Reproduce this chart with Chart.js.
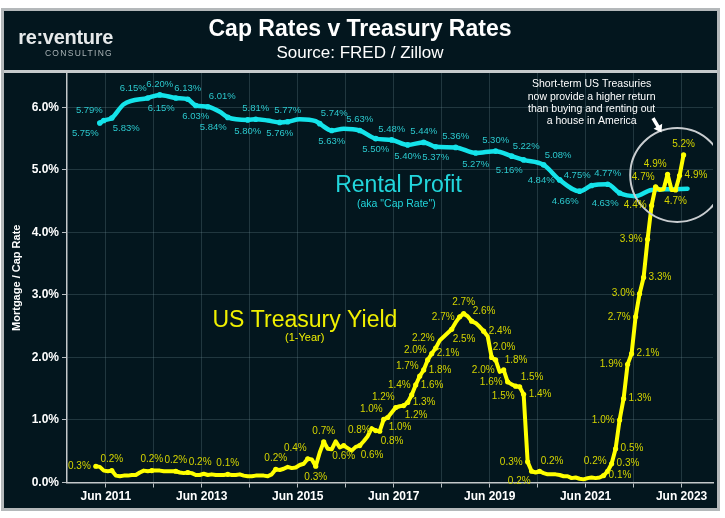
<!DOCTYPE html>
<html><head><meta charset="utf-8">
<script src="https://cdn.jsdelivr.net/npm/chart.js@4.4.1/dist/chart.umd.min.js"></script>
<style>
html,body{margin:0;padding:0;background:#fff;}
#panel{position:absolute;left:1px;top:8px;width:713px;height:497px;border:3px solid #b4b8ba;background:#03161e;}
#panel canvas{position:absolute;left:0;top:0;}
#logo{position:absolute;left:9px;top:15px;width:100px;text-align:right;font-family:"Liberation Sans",Arial,sans-serif;color:#e6e9ea;}
#logo .a{font-size:20px;font-weight:bold;line-height:22px;letter-spacing:-0.3px;}
#logo .b{font-size:8.5px;letter-spacing:1.3px;color:#a9b3b6;line-height:10px;}
</style></head>
<body>
<div id="panel"><canvas id="c" width="713" height="497"></canvas>
<div id="logo"><div class="a">re:venture</div><div class="b">CONSULTING</div></div></div>
<script>
// ---- Data ----
const capMonths = ['2011-04','2011-05','2011-07','2011-10','2012-04','2012-07','2012-11','2013-02','2013-04','2013-07','2013-10','2013-12','2014-05','2014-07','2014-10','2015-01','2015-03','2015-06','2015-10','2015-11','2016-02','2016-05','2016-09','2017-01','2017-05','2017-09','2018-01','2018-04','2018-09','2019-02','2019-07','2019-11','2020-02','2020-07','2020-11','2021-04','2021-07','2021-11','2022-02','2022-06','2022-10','2023-02','2023-07'];
const capValues = [5.75,5.79,5.83,6.05,6.15,6.20,6.15,6.13,6.03,6.01,5.93,5.84,5.80,5.81,5.79,5.76,5.77,5.81,5.78,5.74,5.63,5.66,5.63,5.50,5.48,5.40,5.44,5.37,5.36,5.27,5.30,5.22,5.16,5.08,4.84,4.66,4.75,4.77,4.63,4.58,4.68,4.69,4.70];
const capLabelPos = ['bl','al','br','','al','a','bl','a','b','ar','','bl','b','a','','b','a','','','ar','b','','a','b','a','b','a','b','a','b','a','ar','bl','ar','l','bl','al','a','bl','','','',''];

const treasuryStart = '2011-03';
const treasuryValues = [
 0.26,0.25,0.19,0.18,0.19,0.11,0.10,0.11,0.11,0.12,
 0.12,0.16,0.19,0.18,0.19,0.19,0.19,0.18,0.18,0.18,0.18,0.16,
 0.15,0.16,0.15,0.12,0.12,0.14,0.12,0.13,0.12,0.12,0.12,0.13,
 0.12,0.12,0.13,0.11,0.10,0.10,0.11,0.11,0.11,0.10,0.13,0.21,
 0.20,0.22,0.25,0.23,0.24,0.28,0.30,0.38,0.37,0.26,0.48,0.65,
 0.54,0.53,0.66,0.56,0.59,0.55,0.51,0.57,0.59,0.66,0.74,0.87,
 0.83,0.82,1.01,1.04,1.12,1.20,1.22,1.23,1.28,1.40,1.56,1.70,
 1.80,1.96,2.06,2.15,2.27,2.33,2.39,2.45,2.56,2.65,2.70,2.66,
 2.58,2.55,2.49,2.42,2.34,2.00,1.96,1.77,1.80,1.61,1.57,1.54,
 1.53,1.41,0.33,0.18,0.16,0.18,0.15,0.13,0.13,0.13,0.12,0.10,
 0.10,0.07,0.08,0.06,0.05,0.07,0.08,0.07,0.08,0.11,0.18,0.30,
 0.54,1.00,1.34,1.89,2.06,2.65,3.02,3.28,3.89,4.43,4.73,4.68,
 4.69,4.93,4.68,4.68,4.91,5.24];
const treasuryLabelPos = {
 '2011-03':'l','2011-07':'a','2012-05':'a','2012-11':'a','2013-02':'ar','2013-12':'a','2014-12':'a',
 '2015-08':'al','2015-10':'b','2015-12':'a','2016-05':'b','2016-09':'br',
 '2017-01':'l','2017-02':'br','2017-03':'al','2017-04':'br','2017-06':'al','2017-08':'br','2017-09':'r',
 '2017-10':'al','2017-11':'r','2017-12':'al','2018-01':'r','2018-02':'al','2018-03':'r','2018-04':'al',
 '2018-08':'br','2018-10':'l','2018-11':'a','2019-01':'ar','2019-04':'r','2019-06':'ar','2019-07':'bl',
 '2019-09':'ar','2019-10':'l','2019-12':'bl','2020-01':'ar','2020-02':'r','2020-03':'l','2020-04':'bl',
 '2020-06':'ar','2021-10':'r','2021-11':'al','2021-12':'r','2022-01':'r','2022-02':'l','2022-03':'r',
 '2022-04':'l','2022-05':'r','2022-06':'l','2022-07':'l','2022-08':'r','2022-09':'l','2022-10':'l',
 '2022-11':'al','2023-02':'al','2023-04':'b','2023-05':'r','2023-06':'a'};

const tickYears = [2011,2012,2013,2014,2015,2016,2017,2018,2019,2020,2021,2022,2023];
const xTickLabels = ['Jun 2011','','Jun 2013','','Jun 2015','','Jun 2017','','Jun 2019','','Jun 2021','','Jun 2023'];
const yTickValues = [0,1,2,3,4,5,6];

// ---- helpers ----
const FONT = '"Liberation Sans", Arial, sans-serif';
const toYear = s => +s.slice(0,4) + (+s.slice(5,7) - 1) / 12;
const monthKey = (start, i) => { const y = +start.slice(0,4), m = +start.slice(5,7) - 1 + i; return (y + Math.floor(m/12)) + '-' + String(m%12 + 1).padStart(2,'0'); };
const treasuryMonths = treasuryValues.map((_, i) => monthKey(treasuryStart, i));
const treasuryLabels = treasuryMonths.map(m => treasuryLabelPos[m] || '');

const CYAN = '#14e3ea', CYAN_TXT = '#2cc9ce', YEL = '#ffff00', YEL_TXT = '#d4d400';

function place(code, x, y) {
  switch (code) {
    case 'a': return [x, y - 11, 'center'];
    case 'b': return [x, y + 11, 'center'];
    case 'l': return [x - 5, y, 'right'];
    case 'r': return [x + 5, y, 'left'];
    case 'al': return [x - 1, y - 10, 'right'];
    case 'ar': return [x + 1, y - 10, 'left'];
    case 'bl': return [x - 1, y + 10, 'right'];
    case 'br': return [x + 1, y + 10, 'left'];
  }
  return [x, y, 'center'];
}

const pointLabels = {
  id: 'pointLabels',
  afterDatasetsDraw(chart) {
    const ctx = chart.ctx;
    chart.data.datasets.forEach((ds, di) => {
      const meta = chart.getDatasetMeta(di);
      ctx.save();
      ctx.font = ds.labelSize + 'px ' + FONT;
      ctx.fillStyle = ds.labelColor;
      ctx.textBaseline = 'middle';
      ds.labelPos.forEach((code, i) => {
        if (!code) return;
        const el = meta.data[i];
        const [tx, ty, al] = place(code, el.x, el.y);
        ctx.textAlign = al;
        ctx.fillText(ds.fmt(ds.data[i].y), tx, ty);
      });
      ctx.restore();
    });
  }
};

const notes = [
  {text: 'Rental Profit', x: 2017.475, y: 4.648, color: '#22d6dc', size: 23},
  {text: '(aka "Cap Rate")', x: 2017.43, y: 4.41, color: '#22d6dc', size: 10.5},
  {text: 'US Treasury Yield', x: 2015.525, y: 2.488, color: '#f0f000', size: 23},
  {text: '(1-Year)', x: 2015.52, y: 2.264, color: '#f0f000', size: 11},
  {text: 'Short-term US Treasuries', x: 2021.5, y: 6.32, color: '#ffffff', size: 10.5},
  {text: 'now provide a higher return', x: 2021.5, y: 6.125, color: '#ffffff', size: 10.5},
  {text: 'than buying and renting out', x: 2021.5, y: 5.93, color: '#ffffff', size: 10.5},
  {text: 'a house in America', x: 2021.5, y: 5.735, color: '#ffffff', size: 10.5}
];
const callout = {cx: 2023.284, cy: 4.92, r: 47, ax1: 2022.78, ay1: 5.83, ax2: 2022.955, ay2: 5.60};

const annotations = {
  id: 'annotations',
  beforeDatasetsDraw(chart) {
    const {ctx, scales: {x, y}} = chart;
    ctx.save();
    notes.forEach(n => {
      ctx.font = n.size + 'px ' + FONT;
      ctx.fillStyle = n.color;
      ctx.textAlign = 'center';
      ctx.textBaseline = 'alphabetic';
      ctx.fillText(n.text, x.getPixelForValue(n.x), y.getPixelForValue(n.y));
    });
    ctx.restore();
  },
  afterDatasetsDraw(chart) {
    const {ctx, chartArea: a, scales: {x, y}} = chart;
    ctx.save();
    ctx.beginPath();
    ctx.rect(a.left, a.top, a.right - a.left, a.bottom - a.top);
    ctx.clip();
    ctx.beginPath();
    ctx.arc(x.getPixelForValue(callout.cx), y.getPixelForValue(callout.cy), callout.r, 0, Math.PI * 2);
    ctx.strokeStyle = '#c9cdd0';
    ctx.lineWidth = 2;
    ctx.stroke();
    // arrow
    const x1 = x.getPixelForValue(callout.ax1), y1 = y.getPixelForValue(callout.ay1);
    const x2 = x.getPixelForValue(callout.ax2), y2 = y.getPixelForValue(callout.ay2);
    const ang = Math.atan2(y2 - y1, x2 - x1);
    ctx.strokeStyle = '#ffffff'; ctx.fillStyle = '#ffffff';
    ctx.lineWidth = 3.5;
    ctx.beginPath();
    ctx.moveTo(x1, y1);
    ctx.lineTo(x2 - 5 * Math.cos(ang), y2 - 5 * Math.sin(ang));
    ctx.stroke();
    ctx.beginPath();
    ctx.moveTo(x2, y2);
    ctx.lineTo(x2 - 7 * Math.cos(ang) + 5 * Math.sin(ang), y2 - 7 * Math.sin(ang) - 5 * Math.cos(ang));
    ctx.lineTo(x2 - 7 * Math.cos(ang) - 5 * Math.sin(ang), y2 - 7 * Math.sin(ang) + 5 * Math.cos(ang));
    ctx.closePath();
    ctx.fill();
    ctx.restore();
  },
  afterDraw(chart) {
    const {ctx, chartArea: a} = chart;
    ctx.save();
    ctx.fillStyle = '#c6cacc';
    ctx.fillRect(0, a.top - 3, chart.width, 3);
    ctx.restore();
  }
};

const fmt1 = v => (Math.round(v * 10 + 1e-9) / 10).toFixed(1) + '%';
const fmt2 = v => v.toFixed(2) + '%';

const GRID = 'rgba(120,150,160,0.26)';

new Chart(document.getElementById('c'), {
  type: 'line',
  data: {
    datasets: [
      {
        label: 'US Treasury Yield (1-Year)',
        data: treasuryMonths.map((m, i) => ({x: toYear(m), y: treasuryValues[i]})),
        borderColor: YEL, backgroundColor: YEL,
        borderWidth: 4, tension: 0, borderJoinStyle: 'round', borderCapStyle: 'round',
        pointRadius: treasuryLabels.map(p => p ? 2.6 : 0), pointBorderWidth: 0,
        labelPos: treasuryLabels, fmt: fmt1, labelColor: YEL_TXT, labelSize: 10
      },
      {
        label: 'Rental Profit (Cap Rate)',
        data: capMonths.map((m, i) => ({x: toYear(m), y: capValues[i]})),
        borderColor: CYAN, backgroundColor: CYAN,
        borderWidth: 4.5, cubicInterpolationMode: 'monotone', borderCapStyle: 'round',
        pointRadius: capLabelPos.map(p => p ? 2.8 : 0), pointBorderWidth: 0,
        labelPos: capLabelPos, fmt: fmt2, labelColor: CYAN_TXT, labelSize: 9.5
      }
    ]
  },
  options: {
    responsive: false,
    animation: false,
    events: [],
    layout: {padding: {left: 0, right: 1, top: 0, bottom: 0}},
    plugins: {
      legend: {display: false},
      tooltip: {enabled: false},
      title: {display: true, text: 'Cap Rates v Treasury Rates', color: '#ffffff',
        font: {family: FONT, size: 23, weight: 'bold', lineHeight: 1.2}, padding: {top: 5, bottom: 0}},
      subtitle: {display: true, text: 'Source: FRED / Zillow', color: '#ffffff',
        font: {family: FONT, size: 17, lineHeight: 1.2}, padding: {top: 0, bottom: 9}}
    },
    scales: {
      x: {
        type: 'linear', min: 2010.566, max: 2024.03,
        afterBuildTicks: s => { s.ticks = tickYears.map(yr => ({value: yr + 4.5 / 12})); },
        afterFit: s => { s.height = 25.5; },
        ticks: {autoSkip: false, maxRotation: 0, color: '#ffffff', padding: 2,
          font: {family: FONT, size: 12, weight: 'bold'},
          callback: (v, i) => xTickLabels[i]},
        grid: {color: GRID, tickColor: '#b9bfc2', tickLength: 5},
        border: {color: '#c4c8ca', width: 1.5}
      },
      y: {
        min: 0, max: 6.55,
        afterBuildTicks: s => { s.ticks = yTickValues.map(v => ({value: v})); },
        afterFit: s => { s.width = 63; },
        ticks: {color: '#ffffff', padding: 3, font: {family: FONT, size: 12, weight: 'bold'},
          callback: v => v.toFixed(1) + '%'},
        grid: {color: GRID, tickColor: '#b9bfc2', tickLength: 5},
        border: {color: '#c4c8ca', width: 1.5},
        title: {display: true, text: 'Mortgage / Cap Rate', color: '#ffffff',
          font: {family: FONT, size: 11, weight: 'bold'}, padding: {top: 6, bottom: 0}}
      }
    }
  },
  plugins: [annotations, pointLabels]
});
</script>
</body></html>
